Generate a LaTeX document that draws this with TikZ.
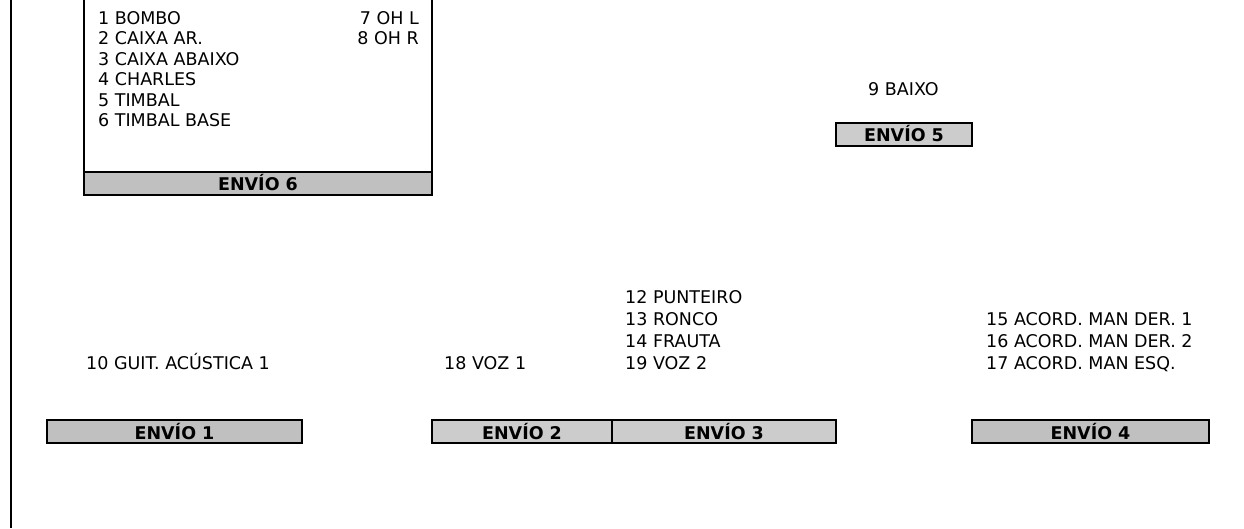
\documentclass[tikz,border=0pt]{standalone}
\usepackage{fontspec}
\setmainfont{DejaVu Sans}
\begin{document}
\begin{tikzpicture}[x=1pt,y=-1pt,
  lbl/.style={anchor=base west,inner sep=0pt,font=\fontsize{17.5}{20}\selectfont},
  lblr/.style={anchor=base east,inner sep=0pt,font=\fontsize{17.5}{20}\selectfont},
  envbox/.style={draw=black,line width=2pt,inner sep=0pt,outer sep=0pt,minimum height=23pt,font=\bfseries\fontsize{17.5}{20}\selectfont},
  envdark/.style={envbox,fill=envgrayA},
  envlight/.style={envbox,fill=envgrayB},
  frame/.style={draw=black,line width=2pt}
]
\definecolor{envgrayA}{HTML}{C0C0C0}
\definecolor{envgrayB}{HTML}{CCCCCC}
\useasboundingbox (0,0) rectangle (1244,528);
\fill[white] (0,0) rectangle (1244,528);
% left rule
\coordinate (lt) at (11,0);
\coordinate (lb) at (11,528);
\draw[frame] (lt) -- (lb);
% ENVIO 6 frame
\draw[frame] (84,0) -- (84,194) -- (432,194) -- (432,0);
\node[envdark,minimum width=348pt] (e6) at (258,183) {ENVÍO 6};
\node[lbl] (t1) at (98,24) {1 BOMBO};
\node[lbl] (t2) at (98,44.5) {2 CAIXA AR.};
\node[lbl] (t3) at (98,65) {3 CAIXA ABAIXO};
\node[lbl] (t4) at (98,85.5) {4 CHARLES};
\node[lbl] (t5) at (98,106) {5 TIMBAL};
\node[lbl] (t6) at (98,126.5) {6 TIMBAL BASE};
\node[lblr] (t7) at (419,24) {7 OH L};
\node[lblr] (t8) at (419,44.5) {8 OH R};
% ENVIO 5
\node[lbl] (t9) at (868,95) {9 BAIXO};
\node[envlight,minimum width=136pt] (e5) at (904,134) {ENVÍO 5};
% bottom texts
\node[lbl] (t10) at (86,369) {10 GUIT. ACÚSTICA 1};
\node[lbl] (t18) at (444,369) {18 VOZ 1};
\node[lbl] (t12) at (625,303) {12 PUNTEIRO};
\node[lbl] (t13) at (625,325) {13 RONCO};
\node[lbl] (t14) at (625,347) {14 FRAUTA};
\node[lbl] (t19) at (625,369) {19 VOZ 2};
\node[lbl] (t15) at (986,325) {15 ACORD. MAN DER. 1};
\node[lbl] (t16) at (986,347) {16 ACORD. MAN DER. 2};
\node[lbl] (t17) at (986,369) {17 ACORD. MAN ESQ.};
% bottom boxes
\node[envdark,minimum width=255pt] (e1) at (174.5,431.5) {ENVÍO 1};
\node[envlight,minimum width=180pt] (e2) at (522,431.5) {ENVÍO 2};
\node[envlight,minimum width=224pt] (e3) at (724,431.5) {ENVÍO 3};
\node[envdark,minimum width=237pt] (e4) at (1090.5,431.5) {ENVÍO 4};
\end{tikzpicture}
\end{document}
